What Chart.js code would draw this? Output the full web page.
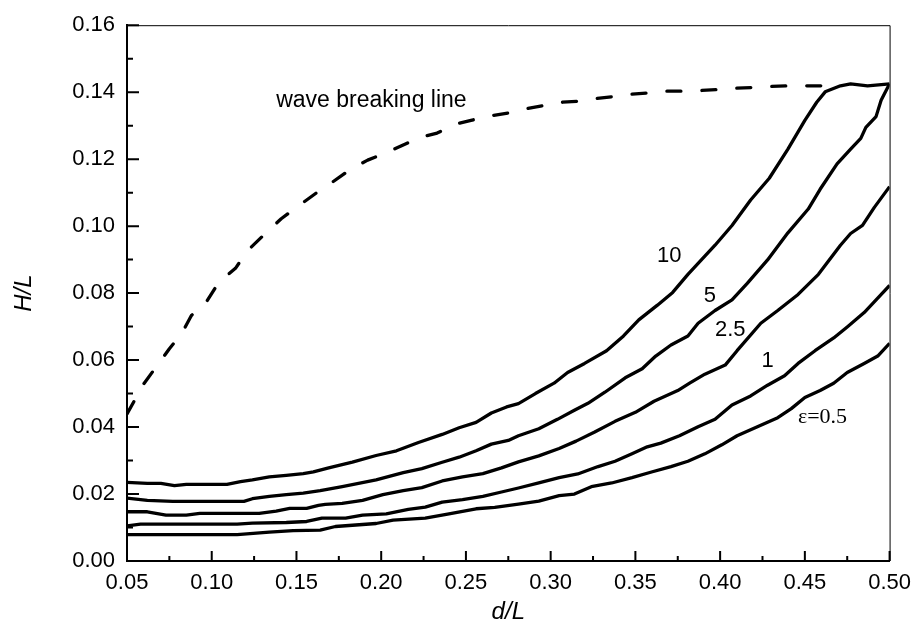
<!DOCTYPE html>
<html>
<head>
<meta charset="utf-8">
<script src="https://cdn.jsdelivr.net/npm/chart.js@4/dist/chart.umd.min.js"></script>
<style>
  html, body { margin: 0; padding: 0; background: #fff; }
  canvas { display: block; }
</style>
</head>
<body>
<canvas id="chart" width="920" height="635"></canvas>
<script>
// tick labels
const xTicks = [0.05, 0.10, 0.15, 0.20, 0.25, 0.30, 0.35, 0.40, 0.45, 0.50];
const yTicks = [0.00, 0.02, 0.04, 0.06, 0.08, 0.10, 0.12, 0.14, 0.16];

// [d/L, H/L]
const breaking = [
  [0.050, 0.0439], [0.060, 0.0530], [0.068, 0.0585], [0.075, 0.0634], [0.082, 0.0677],
  [0.088, 0.0733], [0.097, 0.0775], [0.104, 0.0831], [0.114, 0.0874], [0.121, 0.0926],
  [0.130, 0.0970], [0.141, 0.1022], [0.150, 0.1056], [0.162, 0.1100], [0.170, 0.1127],
  [0.182, 0.1170], [0.192, 0.1197], [0.203, 0.1219], [0.212, 0.1240], [0.223, 0.1265],
  [0.233, 0.1278], [0.244, 0.1305], [0.253, 0.1316], [0.264, 0.1329], [0.275, 0.1338],
  [0.286, 0.1351], [0.296, 0.1360], [0.307, 0.1370], [0.316, 0.1373], [0.327, 0.1381],
  [0.337, 0.1387], [0.348, 0.1394], [0.358, 0.1398], [0.368, 0.1403], [0.378, 0.1403],
  [0.389, 0.1405], [0.399, 0.1408], [0.409, 0.1412], [0.419, 0.1414], [0.430, 0.1417],
  [0.441, 0.1419], [0.451, 0.1419], [0.461, 0.1419], [0.470, 0.1420]
];

const eps10 = [
  [0.050, 0.0235], [0.062, 0.0232], [0.070, 0.0232], [0.078, 0.0225], [0.085, 0.0229],
  [0.109, 0.0229], [0.117, 0.0237], [0.124, 0.0242], [0.134, 0.0251], [0.144, 0.0256],
  [0.154, 0.0261], [0.160, 0.0266], [0.169, 0.0278], [0.183, 0.0295], [0.197, 0.0315],
  [0.209, 0.0329], [0.222, 0.0354], [0.236, 0.0378], [0.246, 0.0398], [0.256, 0.0414],
  [0.265, 0.0442], [0.274, 0.0460], [0.281, 0.0470], [0.291, 0.0500], [0.302, 0.0531],
  [0.310, 0.0563], [0.320, 0.0590], [0.333, 0.0628], [0.343, 0.0672], [0.352, 0.0720],
  [0.363, 0.0764], [0.372, 0.0802], [0.381, 0.0856], [0.397, 0.0943], [0.407, 0.1002],
  [0.418, 0.1078], [0.429, 0.1143], [0.440, 0.1230], [0.450, 0.1316], [0.457, 0.1370],
  [0.462, 0.1401], [0.471, 0.1419], [0.477, 0.1425], [0.487, 0.1419], [0.500, 0.1425]
];

const eps5 = [
  [0.050, 0.0188], [0.062, 0.0181], [0.077, 0.0178], [0.119, 0.0178], [0.124, 0.0186],
  [0.134, 0.0193], [0.144, 0.0198], [0.154, 0.0203], [0.164, 0.0210], [0.177, 0.0222],
  [0.197, 0.0242], [0.213, 0.0264], [0.224, 0.0276], [0.236, 0.0295], [0.246, 0.0310],
  [0.256, 0.0329], [0.265, 0.0349], [0.275, 0.0360], [0.281, 0.0374], [0.293, 0.0395],
  [0.304, 0.0423], [0.314, 0.0450], [0.322, 0.0471], [0.332, 0.0504], [0.344, 0.0547],
  [0.354, 0.0574], [0.362, 0.0612], [0.371, 0.0645], [0.381, 0.0672], [0.387, 0.0710],
  [0.397, 0.0748], [0.407, 0.0780], [0.416, 0.0829], [0.428, 0.0899], [0.440, 0.0980],
  [0.452, 0.1051], [0.459, 0.1110], [0.469, 0.1186], [0.477, 0.1230], [0.483, 0.1262],
  [0.486, 0.1295], [0.492, 0.1327], [0.495, 0.1376], [0.500, 0.1425]
];

const eps25 = [
  [0.050, 0.0147], [0.062, 0.0147], [0.073, 0.0137], [0.085, 0.0137], [0.093, 0.0142],
  [0.128, 0.0142], [0.138, 0.0149], [0.146, 0.0157], [0.156, 0.0157], [0.163, 0.0166],
  [0.167, 0.0169], [0.177, 0.0172], [0.189, 0.0181], [0.201, 0.0198], [0.213, 0.0210],
  [0.224, 0.0219], [0.236, 0.0239], [0.248, 0.0251], [0.260, 0.0261], [0.271, 0.0278],
  [0.281, 0.0296], [0.293, 0.0314], [0.305, 0.0336], [0.315, 0.0358], [0.326, 0.0385],
  [0.338, 0.0417], [0.350, 0.0444], [0.361, 0.0477], [0.375, 0.0509], [0.382, 0.0531],
  [0.391, 0.0558], [0.403, 0.0585], [0.410, 0.0628], [0.424, 0.0710], [0.434, 0.0748],
  [0.446, 0.0796], [0.458, 0.0856], [0.471, 0.0943], [0.477, 0.0978], [0.484, 0.1002],
  [0.491, 0.1056], [0.500, 0.1118]
];

const eps1 = [
  [0.050, 0.0105], [0.058, 0.0110], [0.115, 0.0110], [0.124, 0.0113], [0.144, 0.0115],
  [0.156, 0.0118], [0.165, 0.0128], [0.179, 0.0128], [0.189, 0.0137], [0.203, 0.0141],
  [0.216, 0.0154], [0.226, 0.0161], [0.236, 0.0176], [0.248, 0.0183], [0.260, 0.0193],
  [0.271, 0.0206], [0.281, 0.0218], [0.293, 0.0233], [0.305, 0.0249], [0.316, 0.0260],
  [0.328, 0.0282], [0.338, 0.0298], [0.348, 0.0320], [0.357, 0.0341], [0.365, 0.0352],
  [0.376, 0.0374], [0.387, 0.0401], [0.397, 0.0423], [0.407, 0.0466], [0.418, 0.0493],
  [0.428, 0.0525], [0.438, 0.0553], [0.446, 0.0590], [0.456, 0.0628], [0.467, 0.0666],
  [0.475, 0.0699], [0.485, 0.0742], [0.493, 0.0785], [0.500, 0.0823]
];

const eps05 = [
  [0.050, 0.0079], [0.115, 0.0079], [0.134, 0.0086], [0.148, 0.0091], [0.164, 0.0092],
  [0.173, 0.0103], [0.197, 0.0112], [0.207, 0.0122], [0.226, 0.0128], [0.240, 0.0141],
  [0.256, 0.0156], [0.267, 0.0160], [0.281, 0.0170], [0.293, 0.0179], [0.305, 0.0195],
  [0.314, 0.0200], [0.324, 0.0222], [0.336, 0.0233], [0.348, 0.0249], [0.359, 0.0265],
  [0.371, 0.0282], [0.381, 0.0298], [0.391, 0.0320], [0.401, 0.0347], [0.410, 0.0374],
  [0.422, 0.0401], [0.434, 0.0428], [0.442, 0.0455], [0.450, 0.0488], [0.459, 0.0509],
  [0.467, 0.0531], [0.475, 0.0563], [0.485, 0.0590], [0.493, 0.0612], [0.500, 0.0650]
];

// text placed on the plot, in data units
const notes = [
  { text: "wave breaking line", x: 0.138, y: 0.1375, align: "left", serif: false },
  { text: "10", x: 0.370, y: 0.0910, align: "center", serif: false },
  { text: "5", x: 0.394, y: 0.0791, align: "center", serif: false },
  { text: "2.5", x: 0.406, y: 0.0690, align: "center", serif: false },
  { text: "1", x: 0.428, y: 0.0596, align: "center", serif: false },
  { text: "ε=0.5", x: 0.4604, y: 0.0428, align: "center", serif: true }
];

const SANS = '"Liberation Sans", Arial, sans-serif';
const SERIF = '"Liberation Serif", "Times New Roman", serif';

const toXY = (pts) => pts.map((p) => ({ x: p[0], y: p[1] }));

const curve = (label, pts, dash) => ({
  label: label,
  data: toXY(pts),
  showLine: true,
  borderColor: "#000",
  borderWidth: 3.3,
  borderDash: dash || [],
  borderCapStyle: dash ? "round" : "butt",
  borderJoinStyle: "round",
  pointRadius: 0,
  tension: 0,
});

const mids = (arr) => arr.slice(1).map((v, i) => (v + arr[i]) / 2);

const decor = {
  id: "decor",
  afterDraw(chart) {
    const { ctx, chartArea: a, scales } = chart;
    const xs = scales.x, ys = scales.y;
    ctx.save();
    ctx.strokeStyle = "#000";

    // thin frame on top and right
    ctx.lineWidth = 1;
    ctx.beginPath();
    ctx.moveTo(a.left, a.top + 0.5);
    ctx.lineTo(a.right + 0.5, a.top + 0.5);
    ctx.lineTo(a.right + 0.5, a.bottom);
    ctx.stroke();

    // inward ticks
    ctx.lineWidth = 2;
    ctx.beginPath();
    yTicks.forEach((v) => {
      const y = ys.getPixelForValue(v);
      ctx.moveTo(a.left, y); ctx.lineTo(a.left + 12, y);
    });
    mids(yTicks).forEach((v) => {
      const y = ys.getPixelForValue(v);
      ctx.moveTo(a.left, y); ctx.lineTo(a.left + 6, y);
    });
    xTicks.forEach((v) => {
      const x = xs.getPixelForValue(v);
      ctx.moveTo(x, a.bottom); ctx.lineTo(x, a.bottom - 10);
    });
    mids(xTicks).forEach((v) => {
      const x = xs.getPixelForValue(v);
      ctx.moveTo(x, a.bottom); ctx.lineTo(x, a.bottom - 5);
    });
    ctx.stroke();

    // labels on the plot
    ctx.fillStyle = "#000";
    ctx.textBaseline = "middle";
    notes.forEach((n) => {
      ctx.font = n.serif ? "22px " + SERIF : (n.x < 0.2 ? "23px " : "22px ") + SANS;
      ctx.textAlign = n.align;
      ctx.fillText(n.text, xs.getPixelForValue(n.x), ys.getPixelForValue(n.y));
    });
    ctx.restore();
  },
};

try {
  const ctx = document.getElementById("chart");

  new Chart(ctx, {
    type: "scatter",
    data: {
      datasets: [
        curve("wave breaking line", breaking, [14, 21]),
        curve("10", eps10),
        curve("5", eps5),
        curve("2.5", eps25),
        curve("1", eps1),
        curve("0.5", eps05),
      ],
    },
    options: {
      responsive: false,
      animation: false,
      layout: { padding: { top: 13, right: 28, left: 0, bottom: 0 } },
      plugins: {
        legend: { display: false },
        tooltip: { enabled: false },
      },
      scales: {
        x: {
          type: "linear",
          min: 0.05,
          max: 0.5,
          afterBuildTicks: (s) => { s.ticks = xTicks.map((v) => ({ value: v })); },
          afterFit: (s) => { s.height = 74; },
          grid: { drawOnChartArea: false, drawTicks: false },
          border: { display: true, color: "#000", width: 2 },
          ticks: {
            color: "#000",
            padding: 9,
            maxRotation: 0,
            font: { family: SANS, size: 22 },
            callback: (v) => Number(v).toFixed(2),
          },
          title: {
            display: true,
            text: "d/L",
            color: "#000",
            font: { family: SANS, size: 24, style: "italic" },
            padding: { top: 0, bottom: 8 },
          },
        },
        y: {
          type: "linear",
          min: 0,
          max: 0.16,
          afterBuildTicks: (s) => { s.ticks = yTicks.map((v) => ({ value: v })); },
          afterFit: (s) => { s.width = 127; },
          grid: { drawOnChartArea: false, drawTicks: false },
          border: { display: true, color: "#000", width: 2 },
          ticks: {
            color: "#000",
            padding: 12,
            font: { family: SANS, size: 22 },
            callback: (v) => Number(v).toFixed(2),
          },
          title: {
            display: true,
            text: "H/L",
            color: "#000",
            font: { family: SANS, size: 24, style: "italic" },
            padding: { top: 10, bottom: 0 },
          },
        },
      },
    },
    plugins: [decor],
  });
} catch (e) {
  console.error("Chart initialization error:", e);
}
</script>
</body>
</html>
